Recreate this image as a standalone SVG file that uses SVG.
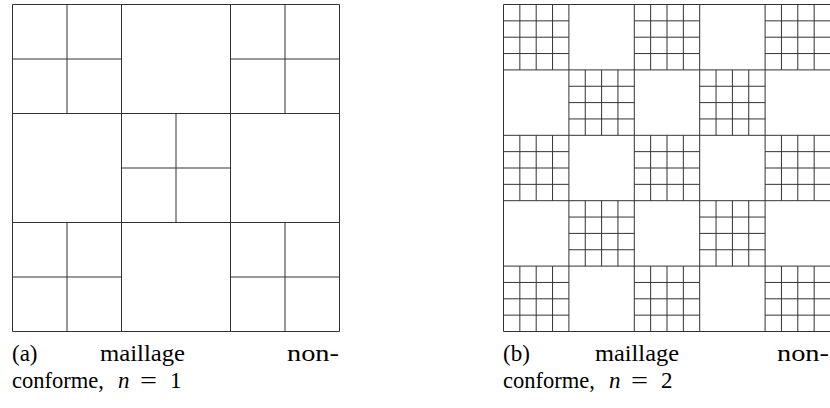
<svg xmlns="http://www.w3.org/2000/svg" xmlns:xlink="http://www.w3.org/1999/xlink" width="830" height="408" viewBox="0 0 830 408">
<style>
.m{fill:none;stroke:#333;stroke-width:1}
</style>
<defs>
<path id="sub2" class="m" d="M54.5,0V109M0,54.5H109"/>
<path id="sub4" class="m" d="M16.35,0V65.4M32.7,0V65.4M49.05,0V65.4M0,16.35H65.4M0,32.7H65.4M0,49.05H65.4"/>
</defs>
<rect width="830" height="408" fill="#fff"/>
<g id="mesh-a">
<path class="m" d="M12.5,4.5H339.5V331.5H12.5Z M121.5,4.5V331.5M230.5,4.5V331.5M12.5,113.5H339.5M12.5,222.5H339.5"/>
<use xlink:href="#sub2" x="12.5" y="4.5"/>
<use xlink:href="#sub2" x="230.5" y="4.5"/>
<use xlink:href="#sub2" x="121.5" y="113.5"/>
<use xlink:href="#sub2" x="12.5" y="222.5"/>
<use xlink:href="#sub2" x="230.5" y="222.5"/>
</g>
<g id="mesh-b">
<path class="m" d="M503.5,4.5H830.5V331.5H503.5Z M568.9,4.5V331.5M634.3,4.5V331.5M699.7,4.5V331.5M765.1,4.5V331.5M503.5,69.9H830.5M503.5,135.3H830.5M503.5,200.7H830.5M503.5,266.1H830.5"/>
<use xlink:href="#sub4" x="503.5" y="4.5"/>
<use xlink:href="#sub4" x="634.3" y="4.5"/>
<use xlink:href="#sub4" x="765.1" y="4.5"/>
<use xlink:href="#sub4" x="568.9" y="69.9"/>
<use xlink:href="#sub4" x="699.7" y="69.9"/>
<use xlink:href="#sub4" x="503.5" y="135.3"/>
<use xlink:href="#sub4" x="634.3" y="135.3"/>
<use xlink:href="#sub4" x="765.1" y="135.3"/>
<use xlink:href="#sub4" x="568.9" y="200.7"/>
<use xlink:href="#sub4" x="699.7" y="200.7"/>
<use xlink:href="#sub4" x="503.5" y="266.1"/>
<use xlink:href="#sub4" x="634.3" y="266.1"/>
<use xlink:href="#sub4" x="765.1" y="266.1"/>
</g>
<g id="caption-a" font-family="Liberation Serif, serif" font-size="23" fill="#000">
<text x="12" y="361">(a)</text>
<text x="100" y="361" textLength="85" lengthAdjust="spacingAndGlyphs">maillage</text>
<text x="287" y="361" textLength="52" lengthAdjust="spacingAndGlyphs">non-</text>
<text x="12" y="388"><tspan textLength="92" lengthAdjust="spacingAndGlyphs">conforme,</tspan><tspan font-style="italic" x="118">n</tspan><tspan x="140" textLength="17" lengthAdjust="spacingAndGlyphs">=</tspan><tspan x="170">1</tspan></text>
</g>
<g id="caption-b" font-family="Liberation Serif, serif" font-size="23" fill="#000">
<text x="503" y="361">(b)</text>
<text x="595" y="361" textLength="84" lengthAdjust="spacingAndGlyphs">maillage</text>
<text x="777" y="361" textLength="52" lengthAdjust="spacingAndGlyphs">non-</text>
<text x="503" y="388"><tspan textLength="92" lengthAdjust="spacingAndGlyphs">conforme,</tspan><tspan font-style="italic" x="609">n</tspan><tspan x="631" textLength="17" lengthAdjust="spacingAndGlyphs">=</tspan><tspan x="661">2</tspan></text>
</g>
</svg>
